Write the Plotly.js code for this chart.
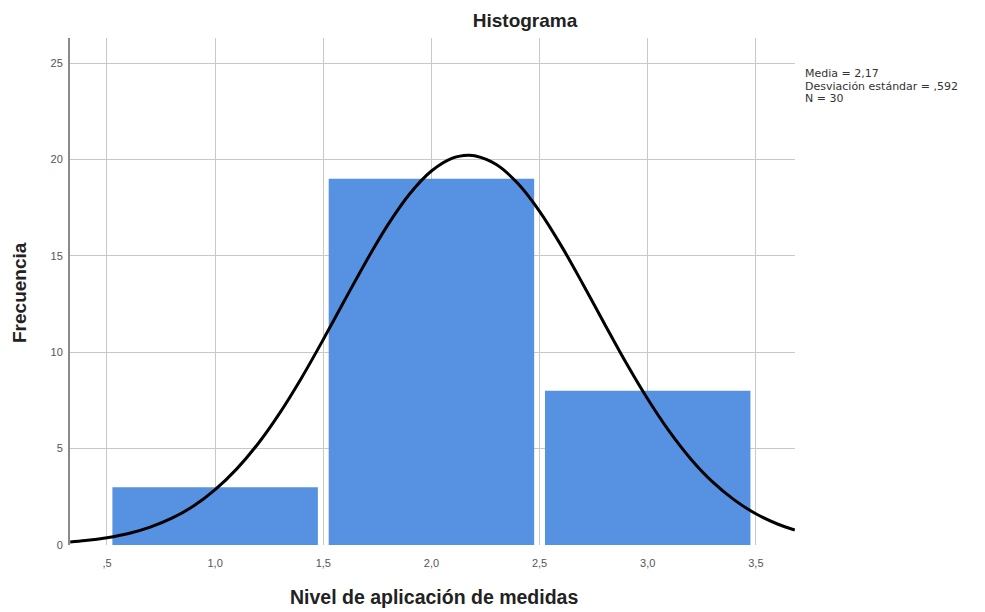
<!DOCTYPE html>
<html>
<head>
<meta charset="utf-8">
<script src="https://cdn.plot.ly/plotly-3.0.1.min.js"></script>
<style>html,body{margin:0;padding:0;background:#fff;}#chart{width:985px;height:612px;}</style>
</head>
<body>
<div id="chart"></div>
<script>
// Histogram bins (centers) and frequencies
const binCenters = [1.0, 2.0, 3.0];
const frequencies = [3, 19, 8];

// Normal curve
const curveX = [0.33, 0.4, 0.5, 0.6, 0.7, 0.8, 0.9, 1.0, 1.1, 1.2, 1.3, 1.4, 1.5, 1.6, 1.7, 1.8, 1.9, 2.0, 2.1, 2.17, 2.2, 2.3, 2.4, 2.5, 2.6, 2.7, 2.8, 2.9, 3.0, 3.1, 3.2, 3.3, 3.4, 3.5, 3.6, 3.68];
const curveY = [0.16, 0.23, 0.38, 0.60, 0.93, 1.39, 2.02, 2.87, 3.95, 5.28, 6.87, 8.68, 10.66, 12.72, 14.75, 16.63, 18.22, 19.40, 20.08, 20.22, 20.19, 19.74, 18.75, 17.31, 15.53, 13.54, 11.48, 9.45, 7.57, 5.89, 4.45, 3.27, 2.34, 1.62, 1.09, 0.78];

// Tick labels
const xTickVals = [0.5, 1.0, 1.5, 2.0, 2.5, 3.0, 3.5];
const xTickText = [',5', '1,0', '1,5', '2,0', '2,5', '3,0', '3,5'];
const yTickVals = [0, 5, 10, 15, 20, 25];
const yTickText = ['0', '5', '10', '15', '20', '25'];

const statsText = ['Media = 2,17', 'Desviación estándar = ,592', 'N = 30'];

const data = [
  {
    type: 'bar',
    x: binCenters,
    y: frequencies,
    width: 0.95,
    marker: {color: '#5692e1', line: {width: 0}},
    hoverinfo: 'x+y'
  },
  {
    type: 'scatter',
    mode: 'lines',
    x: curveX,
    y: curveY,
    line: {color: '#000000', width: 3, shape: 'spline'},
    hoverinfo: 'skip'
  }
];

const PX = px => (px - 70) / 725;
const PY = py => (545 - py) / 507;

const statsAnnotations = statsText.map((t, i) => ({
  text: t,
  xref: 'paper', yref: 'paper',
  x: PX(804), y: PY(73 + i * 13),
  xanchor: 'left', yanchor: 'middle', align: 'left',
  showarrow: false,
  borderpad: 0,
  font: {size: 11, color: '#333', family: 'DejaVu Sans, sans-serif'}
}));

const layout = {
  width: 985,
  height: 612,
  margin: {l: 70, r: 190, t: 38, b: 67},
  paper_bgcolor: '#ffffff',
  plot_bgcolor: '#ffffff',
  showlegend: false,
  font: {family: 'Liberation Sans, Arial, sans-serif', color: '#333'},
  title: {
    text: '<b>Histograma</b>',
    font: {size: 19, color: '#222'},
    xref: 'container', x: 525/985, xanchor: 'center',
    yref: 'container', y: 1 - 20/612, yanchor: 'middle'
  },
  xaxis: {
    range: [0.329, 3.681],
    tickmode: 'array',
    tickvals: xTickVals,
    ticktext: xTickText,
    tickfont: {size: 11, color: '#555'},
    ticklabelstandoff: 10,
    showgrid: true,
    gridcolor: '#c8c8c8',
    gridwidth: 1,
    zeroline: false,
    showline: false,
    ticks: '',
    fixedrange: true
  },
  yaxis: {
    range: [0, 26.3],
    tickmode: 'array',
    tickvals: yTickVals,
    ticktext: yTickText,
    tickfont: {size: 11, color: '#555'},
    ticklabelstandoff: 3,
    showgrid: true,
    gridcolor: '#c8c8c8',
    gridwidth: 1,
    zeroline: false,
    showline: true,
    linecolor: '#8a8a8a',
    linewidth: 2,
    ticks: '',
    fixedrange: true
  },
  annotations: statsAnnotations.concat([
    {
      text: '<b>Frecuencia</b>',
      xref: 'paper', yref: 'paper',
      x: PX(19), y: PY(293),
      xanchor: 'center', yanchor: 'middle',
      textangle: -90,
      showarrow: false,
      font: {size: 19, color: '#222'}
    },
    {
      text: '<b>Nivel de aplicación de medidas</b>',
      xref: 'paper', yref: 'paper',
      x: PX(434), y: PY(597),
      xanchor: 'center', yanchor: 'middle',
      showarrow: false,
      font: {size: 19.5, color: '#222'}
    }
  ])
};

Plotly.newPlot('chart', data, layout, {displayModeBar: false, staticPlot: true});
</script>
</body>
</html>
